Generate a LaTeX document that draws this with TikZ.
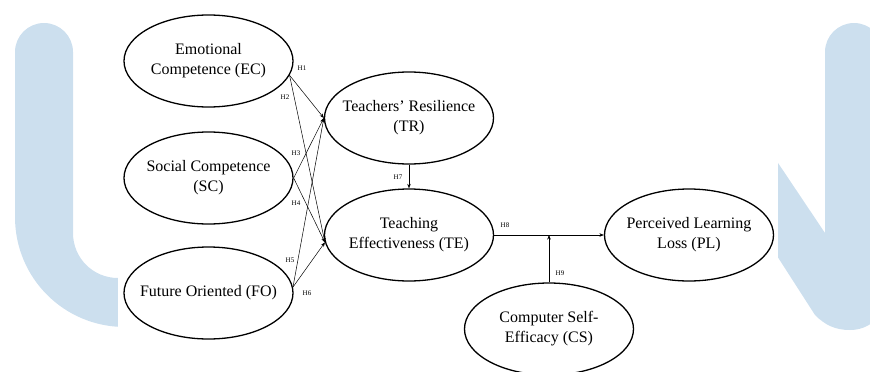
\documentclass[tikz,border=0pt]{standalone}
\usepackage{fontspec}
\setmainfont{Liberation Serif}
\usetikzlibrary{shapes.geometric,arrows.meta}
\definecolor{wmblue}{RGB}{204,223,238}
\begin{document}
\begin{tikzpicture}[x=1pt,y=-1pt,
  var/.style={draw, ellipse, line width=1.3pt, minimum width=169pt, minimum height=92pt, inner sep=0pt},
  vtext/.style={align=center, font=\fontsize{16}{20}\selectfont, inner sep=0pt},
  conn/.style={line width=0.5pt, -{Stealth[length=4.5pt,width=3.5pt]}},
  hl/.style={font=\fontsize{7}{8}\selectfont, inner sep=0pt}]
\useasboundingbox (0,0) rectangle (870,372);
% watermark
\fill[wmblue] (15,52) -- (73,52) -- (73,233) .. controls (73,258) and (93,278) .. (118,278)
  -- (130,278) -- (130,327) -- (125,327) .. controls (64,327) and (15,278) .. (15,217) -- cycle;
\fill[wmblue] (44,52) circle[radius=29pt];
\fill[wmblue] (770,151) -- (825,233) -- (825,52) -- (883,52) -- (883,300)
  .. controls (883,318) and (868,330) .. (850,330)
  .. controls (835,330) and (825,325) .. (815,315) -- (770,245) -- cycle;
\fill[wmblue] (854,52) circle[radius=29pt];
\fill[white] (118,-2) rectangle (778,374);
% variables
\node[var, label={[vtext]center:Emotional\\Competence (EC)}] (EC) at (208.5,61) {};
\node[var, label={[vtext]center:Social Competence\\(SC)}] (SC) at (208.5,178) {};
\node[var, label={[vtext]center:Future Oriented (FO)}] (FO) at (208.5,293) {};
\node[var, label={[vtext]center:Teachers’ Resilience\\(TR)}] (TR) at (409,118) {};
\node[var, label={[vtext]center:Teaching\\Effectiveness (TE)}] (TE) at (409,235) {};
\node[var, label={[vtext]center:Perceived Learning\\Loss (PL)}] (PL) at (689,235) {};
\node[var, label={[vtext]center:Computer Self-\\Efficacy (CS)}] (CS) at (549,329) {};
% connectors
\draw[conn] (EC.-10) -- (TR.west);
\draw[conn] (EC.-10) -- (TE.185);
\draw[conn] (SC.east) -- (TR.west);
\draw[conn] (SC.east) -- (TE.185);
\draw[conn] (FO.4) -- (TR.west);
\draw[conn] (FO.4) -- (TE.185);
\draw[conn] (TR.south) -- (TE.north);
\draw[conn] (TE.east) -- (PL.west);
\draw[conn] (CS.north) -- (CS.north |- TE.east);
% labels
\node[hl] (h1) at (302,68) {H1};
\node[hl] (h2) at (285,97) {H2};
\node[hl] (h3) at (296,153) {H3};
\node[hl] (h4) at (296,203) {H4};
\node[hl] (h5) at (290,260) {H5};
\node[hl] (h6) at (307,293) {H6};
\node[hl] (h7) at (398,177) {H7};
\node[hl] (h8) at (505,225) {H8};
\node[hl] (h9) at (560,273) {H9};
\end{tikzpicture}
\end{document}
